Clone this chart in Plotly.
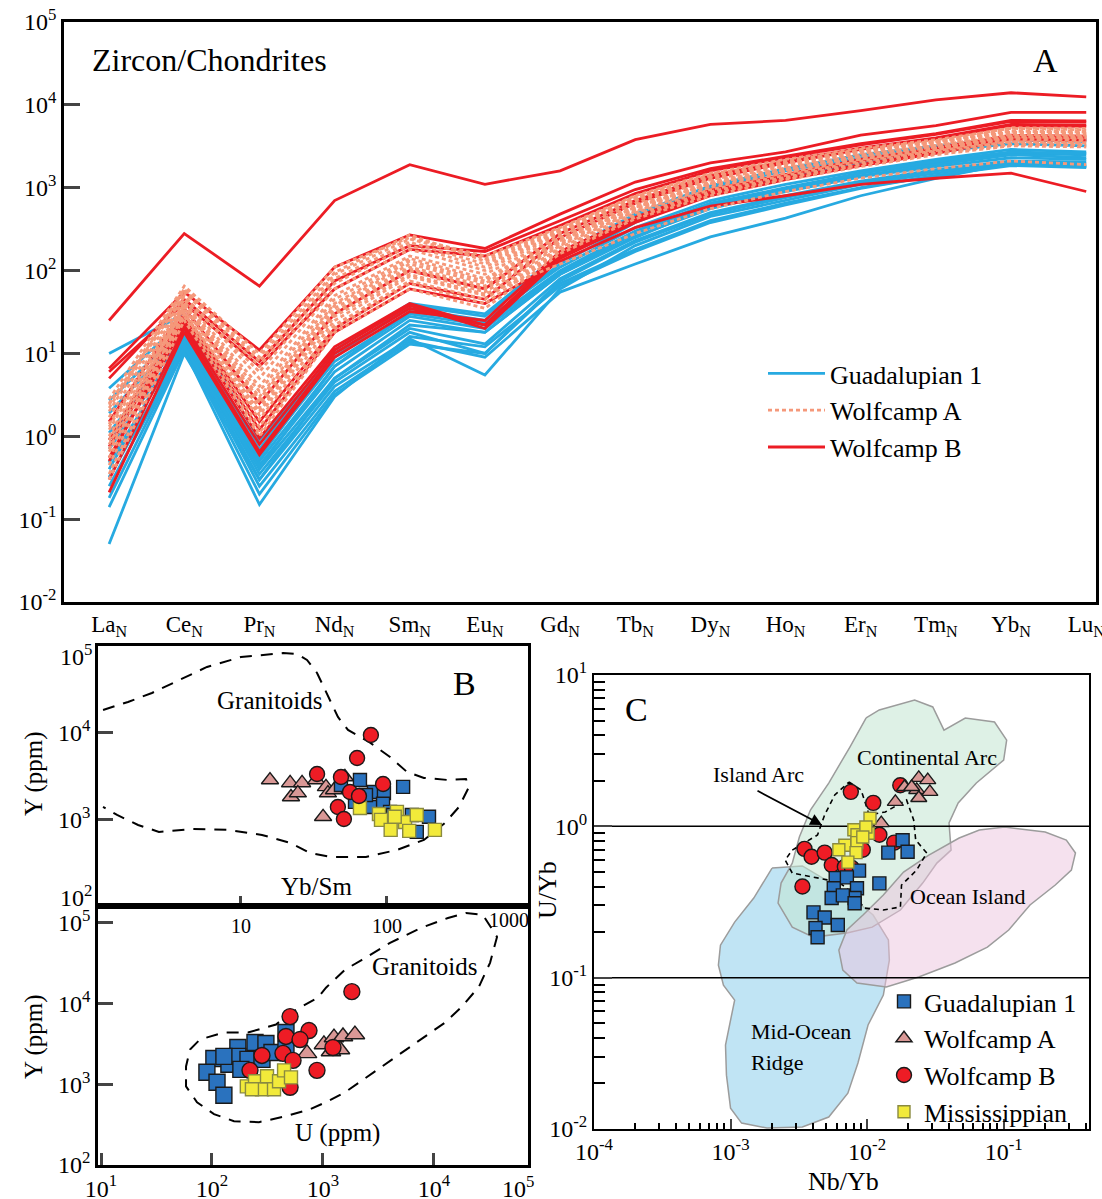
import numpy as np
import plotly.graph_objects as go

W, H = 1102, 1199
SERIF = "Liberation Serif, Times New Roman, serif"

# ---------------- Panel A : chondrite-normalised REE ----------------
ree = ["La", "Ce", "Pr", "Nd", "Sm", "Eu", "Gd", "Tb", "Dy", "Ho", "Er", "Tm", "Yb", "Lu"]

guadalupian_ree = [
    [10, 30, 0.9, 10, 35, 25, 110, 330, 700, 1100, 1600, 2200, 2900, 2700],
    [3.8, 25, 0.6, 8, 30, 22, 100, 300, 650, 1000, 1500, 2000, 2600, 2500],
    [2.7, 20, 0.5, 7, 28, 20, 95, 280, 620, 950, 1400, 1900, 2500, 2300],
    [1.9, 18, 0.45, 6, 25, 18, 90, 260, 560, 900, 1350, 1800, 2300, 2200],
    [1.1, 16, 0.4, 5, 20, 13, 80, 230, 500, 800, 1200, 1650, 2100, 2050],
    [0.7, 15, 0.35, 4.5, 18, 10, 75, 220, 480, 760, 1150, 1600, 2000, 1950],
    [0.48, 14, 0.3, 4, 15, 5.5, 60, 200, 450, 700, 1100, 1500, 1950, 1850],
    [0.32, 13, 0.25, 3.5, 14, 9, 55, 120, 255, 430, 800, 1300, 2000, 1800],
    [0.18, 12, 0.2, 3.2, 13, 10, 70, 180, 400, 650, 1000, 1400, 1900, 1800],
    [0.14, 11, 0.15, 3.0, 16, 12, 65, 170, 380, 620, 980, 1400, 1850, 1750],
    [0.05, 10, 0.3, 5, 22, 18, 90, 250, 600, 950, 1500, 2100, 2700, 2600],
    [0.4, 17, 0.55, 9, 38, 28, 150, 450, 1000, 1600, 2300, 3000, 3800, 3600],
    [0.9, 22, 0.7, 11, 40, 30, 160, 480, 1050, 1700, 2500, 3200, 4000, 3800],
    [0.25, 12, 0.42, 7, 32, 24, 120, 380, 850, 1350, 2000, 2700, 3400, 3200],
]

wolfcampA_ree = [
    [2.8, 65, 10, 110, 250, 150, 330, 800, 1500, 2200, 3000, 3800, 5200, 5000],
    [2.0, 55, 7, 80, 220, 120, 300, 750, 1400, 2000, 2800, 3600, 4800, 4700],
    [1.7, 50, 5, 60, 180, 100, 280, 700, 1300, 1900, 2700, 3500, 4600, 4500],
    [1.4, 45, 4, 50, 150, 90, 260, 650, 1250, 1800, 2600, 3300, 4400, 4300],
    [1.2, 40, 3, 40, 130, 75, 240, 600, 1150, 1700, 2450, 3200, 4200, 4100],
    [0.9, 38, 2.5, 35, 110, 65, 220, 560, 1100, 1600, 2300, 3000, 4000, 3900],
    [0.7, 35, 2, 30, 100, 55, 200, 520, 1000, 1500, 2200, 2900, 3800, 3700],
    [0.55, 32, 1.6, 25, 85, 50, 190, 500, 950, 1400, 2100, 2800, 3600, 3500],
    [0.45, 30, 1.3, 22, 75, 45, 180, 470, 900, 1350, 2000, 2700, 3500, 3400],
    [0.35, 28, 1.1, 20, 70, 40, 170, 440, 850, 1300, 1900, 2600, 3300, 3300],
    [0.3, 25, 1.0, 18, 60, 35, 160, 420, 800, 1250, 1800, 2500, 3200, 3100],
    [2.4, 60, 8, 90, 240, 140, 320, 780, 1450, 2100, 2900, 3700, 4900, 4800],
    [1.3, 42, 3.5, 45, 140, 80, 250, 620, 1200, 1750, 2500, 3250, 4300, 4200],
    [0.8, 36, 2.2, 32, 105, 60, 210, 540, 1050, 1550, 2250, 2950, 3900, 3800],
    [2.5, 48, 6, 70, 200, 110, 290, 720, 1350, 1950, 2750, 3550, 4700, 4600],
    [0.65, 30, 1.8, 28, 90, 52, 120, 280, 560, 900, 1300, 1700, 2100, 1900],
    [1.0, 40, 2.8, 38, 120, 70, 230, 580, 1120, 1650, 2400, 3100, 4100, 4000],
    [2.2, 58, 9, 95, 270, 130, 310, 760, 1420, 2050, 2850, 3650, 5300, 5200],
]

wolfcampB_ree = [
    [25, 280, 65, 700, 1900, 1100, 1600, 3800, 5800, 6500, 8500, 11500, 14000, 12500],
    [6.6, 55, 11, 110, 270, 185, 480, 1170, 2000, 2700, 4300, 5600, 8100, 8100],
    [5, 45, 8, 75, 200, 170, 400, 950, 1700, 2400, 3400, 4500, 6500, 6400],
    [0.75, 25, 0.95, 12, 40, 22, 150, 400, 850, 1300, 1900, 2700, 3900, 3800],
    [0.55, 22, 0.8, 11, 38, 20, 140, 380, 800, 1250, 1850, 2600, 3800, 3700],
    [0.3, 20, 0.65, 10, 35, 22, 160, 420, 900, 1400, 2100, 2900, 4100, 4000],
    [0.21, 18, 0.6, 9, 32, 25, 170, 440, 950, 1450, 2200, 3000, 4300, 4200],
    [1.5, 35, 2.5, 30, 100, 60, 280, 700, 1400, 2100, 3000, 4000, 5800, 5700],
    [0.9, 30, 1.5, 20, 70, 45, 250, 650, 1300, 2000, 2900, 3900, 5600, 5500],
    [0.5, 28, 1.2, 18, 60, 40, 130, 330, 600, 800, 1100, 1300, 1500, 900],
    [6, 40, 7, 60, 180, 150, 350, 850, 1600, 2300, 3300, 4400, 6300, 6200],
]

# ---------------- Panel B (upper): Y vs Yb/Sm ----------------
ybsm_guad = [65.3, 48.4, 81.5, 95.3, 129, 60.4, 77.6, 94, 105, 110, 148, 194, 160, 71.8]
y_guad_b1 = [2840, 2490, 2070, 2010, 2370, 1590, 1390, 1510, 1220, 1120, 1120, 1070, 716, 1910]
ybsm_wa = [15.8, 21.7, 26.2, 22.0, 24.5, 32.7, 38.2, 39.4, 43.4, 51.5, 36.5]
y_wa_b1 = [2840, 2630, 2630, 1810, 2010, 2840, 2370, 2010, 2180, 3080, 1070]
ybsm_wb = [77.6, 62.4, 33.2, 48.4, 94, 55.8, 64.3, 46.1, 50.7]
y_wb_b1 = [9400, 5100, 3340, 3080, 2560, 2070, 1860, 1390, 1010]
ybsm_mi = [65.3, 88.1, 91, 117, 133, 160, 106, 142, 213, 113]
y_mi_b1 = [1350, 1150, 985, 1220, 933, 1120, 755, 735, 755, 1070]

# granitoid field boundary (log10 Yb/Sm, log10 Y)
gran1_log_ybsm = [0.055, 0.226, 0.390, 0.575, 0.767, 1.0, 1.288, 1.384, 1.452, 1.521, 1.596, 1.664,
                  1.733, 1.877, 2.021, 2.137, 2.253, 2.418, 2.541, 2.562, 2.493, 2.397, 2.253, 2.068,
                  1.856, 1.616, 1.473, 1.336, 1.144, 0.911, 0.671, 0.438, 0.295, 0.151, 0.055]
gran1_log_y = [4.262, 4.354, 4.458, 4.608, 4.758, 4.873, 4.919, 4.908, 4.839, 4.689, 4.412, 4.181,
               4.031, 3.893, 3.720, 3.547, 3.478, 3.454, 3.466, 3.374, 3.143, 2.958, 2.762, 2.647,
               2.566, 2.566, 2.612, 2.728, 2.820, 2.878, 2.889, 2.855, 2.935, 3.051, 3.143]

# ---------------- Panel B (lower): Y vs U ----------------
u_guad = [104, 90, 111, 128, 142, 171, 171, 211, 244, 306, 182, 282, 347, 128, 464, 464]
y_guad_b2 = [2090, 1410, 1060, 731, 1770, 2860, 2220, 2040, 3300, 3210, 1530, 2040, 2480, 2220, 4390, 2700]
u_wa = [718, 1020, 1256, 1514, 1940, 1180, 1422]
y_wa_b2 = [2420, 3120, 3800, 3920, 4140, 2550, 2700]
u_wb = [1820, 505, 748, 464, 621, 1230, 282, 436, 537, 220, 883, 505]
y_wb_b2 = [14070, 6910, 4640, 3920, 3590, 2860, 2280, 2420, 1980, 1490, 1490, 918]
u_mi = [206, 244, 282, 313, 362, 402, 446, 515, 229]
y_mi_b2 = [944, 1090, 867, 1257, 867, 1090, 1490, 1220, 867]

gran2_log_u = [2.324, 2.577, 2.712, 2.955, 3.027, 3.198, 3.351, 3.604, 3.883, 4.126, 4.288, 4.441,
               4.568, 4.505, 4.405, 4.252, 4.099, 3.883, 3.667, 3.414, 3.198, 3.045, 2.883, 2.667,
               2.423, 2.198, 2.018, 1.865, 1.766, 1.766, 1.802, 1.892, 2.108, 2.324]
gran2_log_y = [3.642, 3.741, 3.889, 4.074, 4.198, 4.420, 4.543, 4.753, 4.938, 5.062, 5.123, 5.099,
               4.827, 4.506, 4.210, 3.963, 3.765, 3.556, 3.346, 3.099, 2.901, 2.790, 2.691, 2.605,
               2.531, 2.543, 2.630, 2.778, 2.975, 3.222, 3.432, 3.556, 3.642, 3.642]

# ---------------- Panel C : U/Yb vs Nb/Yb ----------------
nbyb_guad = [0.0182, 0.0143, 0.0198, 0.00873, 0.00589, 0.00711, 0.0123, 0.0057, 0.00843, 0.0081,
             0.0055, 0.00664, 0.00405, 0.00489, 0.0061, 0.00419, 0.00434, 0.0081]
uyb_guad = [0.81, 0.67, 0.68, 0.51, 0.455, 0.46, 0.42, 0.39, 0.39, 0.336, 0.336, 0.35, 0.27, 0.25,
            0.223, 0.213, 0.185, 0.31]
nbyb_wa = [0.0161, 0.0188, 0.0239, 0.0278, 0.0231, 0.0288, 0.0239, 0.0127, 0.0212]
uyb_wa = [1.45, 1.82, 2.09, 2.02, 1.74, 1.69, 1.54, 1.05, 1.82]
nbyb_wb = [0.0076, 0.0111, 0.0175, 0.00348, 0.00392, 0.00489, 0.00551, 0.00687, 0.00774, 0.0123,
           0.0158, 0.00336, 0.0093]
uyb_wb = [1.69, 1.43, 1.87, 0.71, 0.63, 0.67, 0.555, 0.54, 0.53, 0.88, 0.78, 0.40, 0.70]
nbyb_mi = [0.0105, 0.0080, 0.00843, 0.0102, 0.0098, 0.00687, 0.00843, 0.00621, 0.0083, 0.00723, 0.0093]
uyb_mi = [1.13, 0.95, 0.88, 0.90, 0.99, 0.75, 0.78, 0.70, 0.67, 0.58, 0.85]

uyb_ref_lines = [1.0, 0.1]

# tectonic fields (log10 Nb/Yb, log10 U/Yb)
mor_log_x = [-2.696, -2.474, -2.178, -1.956, -1.844, -1.837, -1.881, -1.993, -2.067, -2.141, -2.281,
             -2.474, -2.733, -2.919, -3.0, -3.030, -3.037, -2.993, -2.970, -3.052, -3.089, -3.074,
             -2.970, -2.830, -2.696]
mor_log_y = [-0.276, -0.262, -0.421, -0.586, -0.751, -0.884, -1.115, -1.313, -1.564, -1.763, -1.921,
             -1.987, -1.994, -1.961, -1.862, -1.644, -1.445, -1.247, -1.148, -1.049, -0.917, -0.785,
             -0.633, -0.474, -0.276]
cont_log_x = [-2.007, -1.911, -1.652, -1.519, -1.437, -1.281, -1.067, -0.978, -1.0, -1.2, -1.333, -1.4,
              -1.385, -1.489, -1.593, -1.756, -1.963, -2.148, -2.393, -2.548, -2.652, -2.630, -2.548,
              -2.496, -2.415, -2.281, -2.126, -2.007]
cont_log_y = [0.716, 0.769, 0.835, 0.789, 0.636, 0.716, 0.689, 0.570, 0.438, 0.286, 0.154, 0.022,
              -0.157, -0.243, -0.375, -0.553, -0.666, -0.705, -0.732, -0.666, -0.507, -0.375, -0.243,
              -0.071, 0.108, 0.286, 0.524, 0.716]
oib_log_x = [-0.993, -0.696, -0.541, -0.474, -0.504, -0.622, -0.807, -0.963, -1.119, -1.356, -1.622,
             -1.859, -2.074, -2.178, -2.207, -2.148, -2.030, -1.881, -1.733, -1.548, -1.326, -1.178, -0.993]
oib_log_y = [-0.005, -0.038, -0.091, -0.176, -0.289, -0.388, -0.520, -0.685, -0.798, -0.903, -0.996,
             -1.062, -1.036, -0.950, -0.818, -0.685, -0.586, -0.454, -0.302, -0.190, -0.077, -0.024, -0.005]
arc_log_x = [-2.133, -2.044, -1.985, -1.867, -1.711, -1.659, -1.644, -1.563, -1.637, -1.748, -1.756,
             -1.881, -2.022, -2.089, -2.207, -2.393, -2.548, -2.6, -2.548, -2.363, -2.311, -2.237, -2.133]
arc_log_y = [0.293, 0.240, 0.075, 0.095, 0.174, 0.042, -0.091, -0.176, -0.289, -0.388, -0.533, -0.553,
             -0.540, -0.454, -0.368, -0.335, -0.309, -0.223, -0.157, -0.057, 0.075, 0.207, 0.293]

# ---------------- styles ----------------
C_BLUE_LINE = "#27aae1"
C_SALMON = "#f5987a"
C_RED = "#ec1c24"
M_BLUE = "#2a72be"
M_PINK = "#d99896"
M_RED = "#ee1c25"
M_YEL = "#f2ea3a"

fig = go.Figure()

# ---- Panel A lines
for i, row in enumerate(guadalupian_ree):
    fig.add_trace(go.Scatter(x=ree, y=row, mode="lines", xaxis="x", yaxis="y",
                             line=dict(color=C_BLUE_LINE, width=2.8),
                             name="Guadalupian 1", legendgroup="g1", legendrank=1,
                             showlegend=(i == 0), hoverinfo="skip"))
for i, row in enumerate(wolfcampB_ree):
    fig.add_trace(go.Scatter(x=ree, y=row, mode="lines", xaxis="x", yaxis="y",
                             line=dict(color=C_RED, width=2.8),
                             name="Wolfcamp B", legendgroup="wb", legendrank=3,
                             showlegend=(i == 0), hoverinfo="skip"))
for i, row in enumerate(wolfcampA_ree):
    fig.add_trace(go.Scatter(x=ree, y=row, mode="lines", xaxis="x", yaxis="y",
                             line=dict(color=C_SALMON, width=2.8, dash="4px,3px"),
                             name="Wolfcamp A", legendgroup="wa", legendrank=2,
                             showlegend=(i == 0), hoverinfo="skip"))

def mk(symbol, fill, size, outline="#1a1a1a"):
    return dict(symbol=symbol, color=fill, size=size, line=dict(color=outline, width=1.4))

# ---- Panel B upper
fig.add_trace(go.Scatter(x=10 ** np.array(gran1_log_ybsm), y=10 ** np.array(gran1_log_y), mode="lines",
                         xaxis="x2", yaxis="y2", line=dict(color="black", width=2, dash="12px,9px"),
                         showlegend=False, hoverinfo="skip"))
fig.add_trace(go.Scatter(x=ybsm_wa, y=y_wa_b1, mode="markers", xaxis="x2", yaxis="y2",
                         marker=mk("triangle-up", M_PINK, 15), showlegend=False))
fig.add_trace(go.Scatter(x=ybsm_guad, y=y_guad_b1, mode="markers", xaxis="x2", yaxis="y2",
                         marker=mk("square", M_BLUE, 13), showlegend=False))
fig.add_trace(go.Scatter(x=ybsm_mi, y=y_mi_b1, mode="markers", xaxis="x2", yaxis="y2",
                         marker=mk("square", M_YEL, 13, "#8a8a40"), showlegend=False))
fig.add_trace(go.Scatter(x=ybsm_wb, y=y_wb_b1, mode="markers", xaxis="x2", yaxis="y2",
                         marker=mk("circle", M_RED, 15), showlegend=False))

# ---- Panel B lower
fig.add_trace(go.Scatter(x=10 ** np.array(gran2_log_u), y=10 ** np.array(gran2_log_y), mode="lines",
                         xaxis="x3", yaxis="y3", line=dict(color="black", width=2, dash="12px,9px"),
                         showlegend=False, hoverinfo="skip"))
fig.add_trace(go.Scatter(x=u_guad, y=y_guad_b2, mode="markers", xaxis="x3", yaxis="y3",
                         marker=mk("square", M_BLUE, 16), showlegend=False))
fig.add_trace(go.Scatter(x=u_wa, y=y_wa_b2, mode="markers", xaxis="x3", yaxis="y3",
                         marker=mk("triangle-up", M_PINK, 17), showlegend=False))
fig.add_trace(go.Scatter(x=u_wb, y=y_wb_b2, mode="markers", xaxis="x3", yaxis="y3",
                         marker=mk("circle", M_RED, 16), showlegend=False))
fig.add_trace(go.Scatter(x=u_mi, y=y_mi_b2, mode="markers", xaxis="x3", yaxis="y3",
                         marker=mk("square", M_YEL, 13, "#8a8a40"), showlegend=False))

# ---- Panel C fields
for lx, ly, fc in [(mor_log_x, mor_log_y, "rgba(140,205,235,0.55)"),
                   (cont_log_x, cont_log_y, "rgba(195,230,210,0.55)"),
                   (oib_log_x, oib_log_y, "rgba(236,196,222,0.50)")]:
    fig.add_trace(go.Scatter(x=10 ** np.array(lx), y=10 ** np.array(ly), mode="lines", fill="toself",
                             fillcolor=fc, line=dict(color="#9c9c9c", width=1.5),
                             xaxis="x4", yaxis="y4", showlegend=False, hoverinfo="skip"))
fig.add_trace(go.Scatter(x=10 ** np.array(arc_log_x), y=10 ** np.array(arc_log_y), mode="lines",
                         line=dict(color="black", width=1.6, dash="5px,4px"),
                         xaxis="x4", yaxis="y4", showlegend=False, hoverinfo="skip"))
for v in uyb_ref_lines:
    fig.add_trace(go.Scatter(x=[1e-4, 0.5], y=[v, v], mode="lines", line=dict(color="black", width=1.5),
                             xaxis="x4", yaxis="y4", showlegend=False, hoverinfo="skip"))

fig.add_trace(go.Scatter(x=nbyb_wb, y=uyb_wb, mode="markers", xaxis="x4", yaxis="y4",
                         marker=mk("circle", M_RED, 15), name="Wolfcamp B",
                         legend="legend2", legendrank=3))
fig.add_trace(go.Scatter(x=nbyb_wa, y=uyb_wa, mode="markers", xaxis="x4", yaxis="y4",
                         marker=mk("triangle-up", M_PINK, 14), name="Wolfcamp A",
                         legend="legend2", legendrank=2))
fig.add_trace(go.Scatter(x=nbyb_guad, y=uyb_guad, mode="markers", xaxis="x4", yaxis="y4",
                         marker=mk("square", M_BLUE, 13), name="Guadalupian 1",
                         legend="legend2", legendrank=1))
fig.add_trace(go.Scatter(x=nbyb_mi, y=uyb_mi, mode="markers", xaxis="x4", yaxis="y4",
                         marker=mk("square", M_YEL, 12, "#8a8a40"), name="Mississippian",
                         legend="legend2", legendrank=4))

# ---------------- axes ----------------
def pw(e):
    return f"10<sup>{e}</sup>"

axline = dict(showline=True, linecolor="black", mirror=True, showgrid=False, zeroline=False,
              automargin=False)
tf24 = dict(family=SERIF, size=24, color="black")

def xd(a, b):
    return [a / W, b / W]

def yd(top, bottom):
    return [1 - bottom / H, 1 - top / H]

fig.update_layout(
    width=W, height=H, margin=dict(l=0, r=0, t=0, b=0, autoexpand=False),
    paper_bgcolor="white", plot_bgcolor="white",
    font=dict(family=SERIF, color="black"),
    xaxis=dict(domain=xd(64, 1096), anchor="y", range=[-0.6, 13.13], tickvals=ree,
               ticktext=[f"{e}<sub>N</sub>" for e in ree], ticks="", linewidth=2.5,
               tickfont=dict(family=SERIF, size=23, color="black"), **axline),
    yaxis=dict(domain=yd(22, 602), anchor="x", type="log", range=[-2, 5],
               tickvals=[10.0 ** k for k in range(-2, 6)], ticktext=[pw(k) for k in range(-2, 6)],
               ticks="inside", ticklen=16, tickwidth=2.5, linewidth=2.5, tickfont=tf24, **axline),
    xaxis2=dict(domain=xd(98, 528), anchor="y2", type="log", range=[0.0205, 2.966],
                tickvals=[10, 100], ticktext=["10", "100"], ticks="inside", ticklen=10, tickwidth=2.5,
                linewidth=2.5, tickfont=dict(family=SERIF, size=20, color="black"), **axline),
    yaxis2=dict(domain=yd(646, 906), anchor="x2", type="log", range=[2, 5],
                tickvals=[1e2, 1e3, 1e4, 1e5], ticktext=["", pw(3), pw(4), ""], ticks="inside",
                ticklen=15, tickwidth=2.5, linewidth=2.5, tickfont=tf24, **axline),
    xaxis3=dict(domain=xd(98, 528), anchor="y3", type="log", range=[0.973, 4.847],
                tickvals=[1e1, 1e2, 1e3, 1e4], ticktext=[pw(1), pw(2), pw(3), pw(4)], ticks="inside",
                ticklen=12, tickwidth=2.5, linewidth=2.5, tickfont=tf24, **axline),
    yaxis3=dict(domain=yd(906, 1165), anchor="x3", type="log", range=[2, 5.21],
                tickvals=[1e2, 1e3, 1e4, 1e5], ticktext=[pw(2), pw(3), pw(4), pw(5)], ticks="inside",
                ticklen=15, tickwidth=2.5, linewidth=2.5, tickfont=tf24, **axline),
    xaxis4=dict(domain=xd(594, 1089), anchor="y4", type="log", range=[-4, -0.375],
                tickvals=[1e-4, 1e-3, 1e-2, 1e-1], ticktext=[pw(-4), pw(-3), pw(-2), pw(-1)],
                ticks="inside", ticklen=10, tickwidth=2, linewidth=2, tickfont=tf24,
                minor=dict(tickmode="array",
                           tickvals=[m * 10.0 ** k for k in range(-4, 0) for m in range(2, 10)],
                           ticks="inside", ticklen=6, tickwidth=1.5, tickcolor="black", showgrid=False),
                **axline),
    yaxis4=dict(domain=yd(675, 1129), anchor="x4", type="log", range=[-2, 1],
                tickvals=[1e-2, 1e-1, 1e0, 1e1], ticktext=[pw(-2), pw(-1), pw(0), pw(1)],
                ticks="inside", ticklen=18, tickwidth=2, linewidth=2, tickfont=tf24,
                minor=dict(tickmode="array",
                           tickvals=[m * 10.0 ** k for k in range(-2, 1) for m in range(2, 10)],
                           ticks="inside", ticklen=11, tickwidth=1.5, tickcolor="black", showgrid=False),
                **axline),
    legend=dict(x=763 / W, y=1 - 350 / H, xanchor="left", yanchor="top", bgcolor="rgba(0,0,0,0)",
                font=dict(family=SERIF, size=26, color="black"), traceorder="normal", itemwidth=57),
    legend2=dict(x=884 / W, y=1 - 978 / H, xanchor="left", yanchor="top", bgcolor="rgba(0,0,0,0)",
                 font=dict(family=SERIF, size=26, color="black"), traceorder="normal"),
)

def ann(text, x, y, size, xanchor="center", angle=0):
    return dict(text=text, x=x / W, y=1 - y / H, xref="paper", yref="paper", showarrow=False,
                font=dict(family=SERIF, size=size, color="black"), xanchor=xanchor, yanchor="middle",
                textangle=angle)

annotations = [
    ann("Zircon/Chondrites", 90, 60, 32, "left"),
    ann("A", 1045, 60, 34),
    ann("Granitoids", 270, 700, 25),
    ann("B", 464, 683, 34),
    ann("Yb/Sm", 316, 886, 25),
    ann("Y (ppm)", 34, 774, 25, angle=-90),
    ann(pw(5), 94, 655, 24, "right"),
    ann(pw(2), 94, 896, 24, "right"),
    ann("1000", 531, 920, 20, "right"),
    ann("Granitoids", 425, 966, 25),
    ann("U (ppm)", 337, 1133, 25),
    ann("Y (ppm)", 34, 1037, 25, angle=-90),
    ann(pw(5), 518, 1187, 24),
    ann("C", 636, 709, 34),
    ann("Continental Arc", 927, 757, 22),
    ann("Island Arc", 758, 774, 22),
    ann("Ocean Island", 967, 896, 22),
    ann("Mid-Ocean", 749, 1031, 22, "left"),
    ann("Ridge", 749, 1062, 22, "left"),
    ann("U/Yb", 547, 890, 26, angle=-90),
    ann("Nb/Yb", 843, 1181, 26),
    dict(text="", x=822 / W, y=1 - 825 / H, ax=-66, ay=-35, xref="paper", yref="paper",
         axref="pixel", ayref="pixel", showarrow=True, arrowhead=2, arrowsize=1.3, arrowwidth=1.8,
         arrowcolor="black"),
]
fig.update_layout(annotations=annotations)

fig.write_html("out.html", config={"displayModeBar": False},
               post_script="document.body.style.margin='0px';")
